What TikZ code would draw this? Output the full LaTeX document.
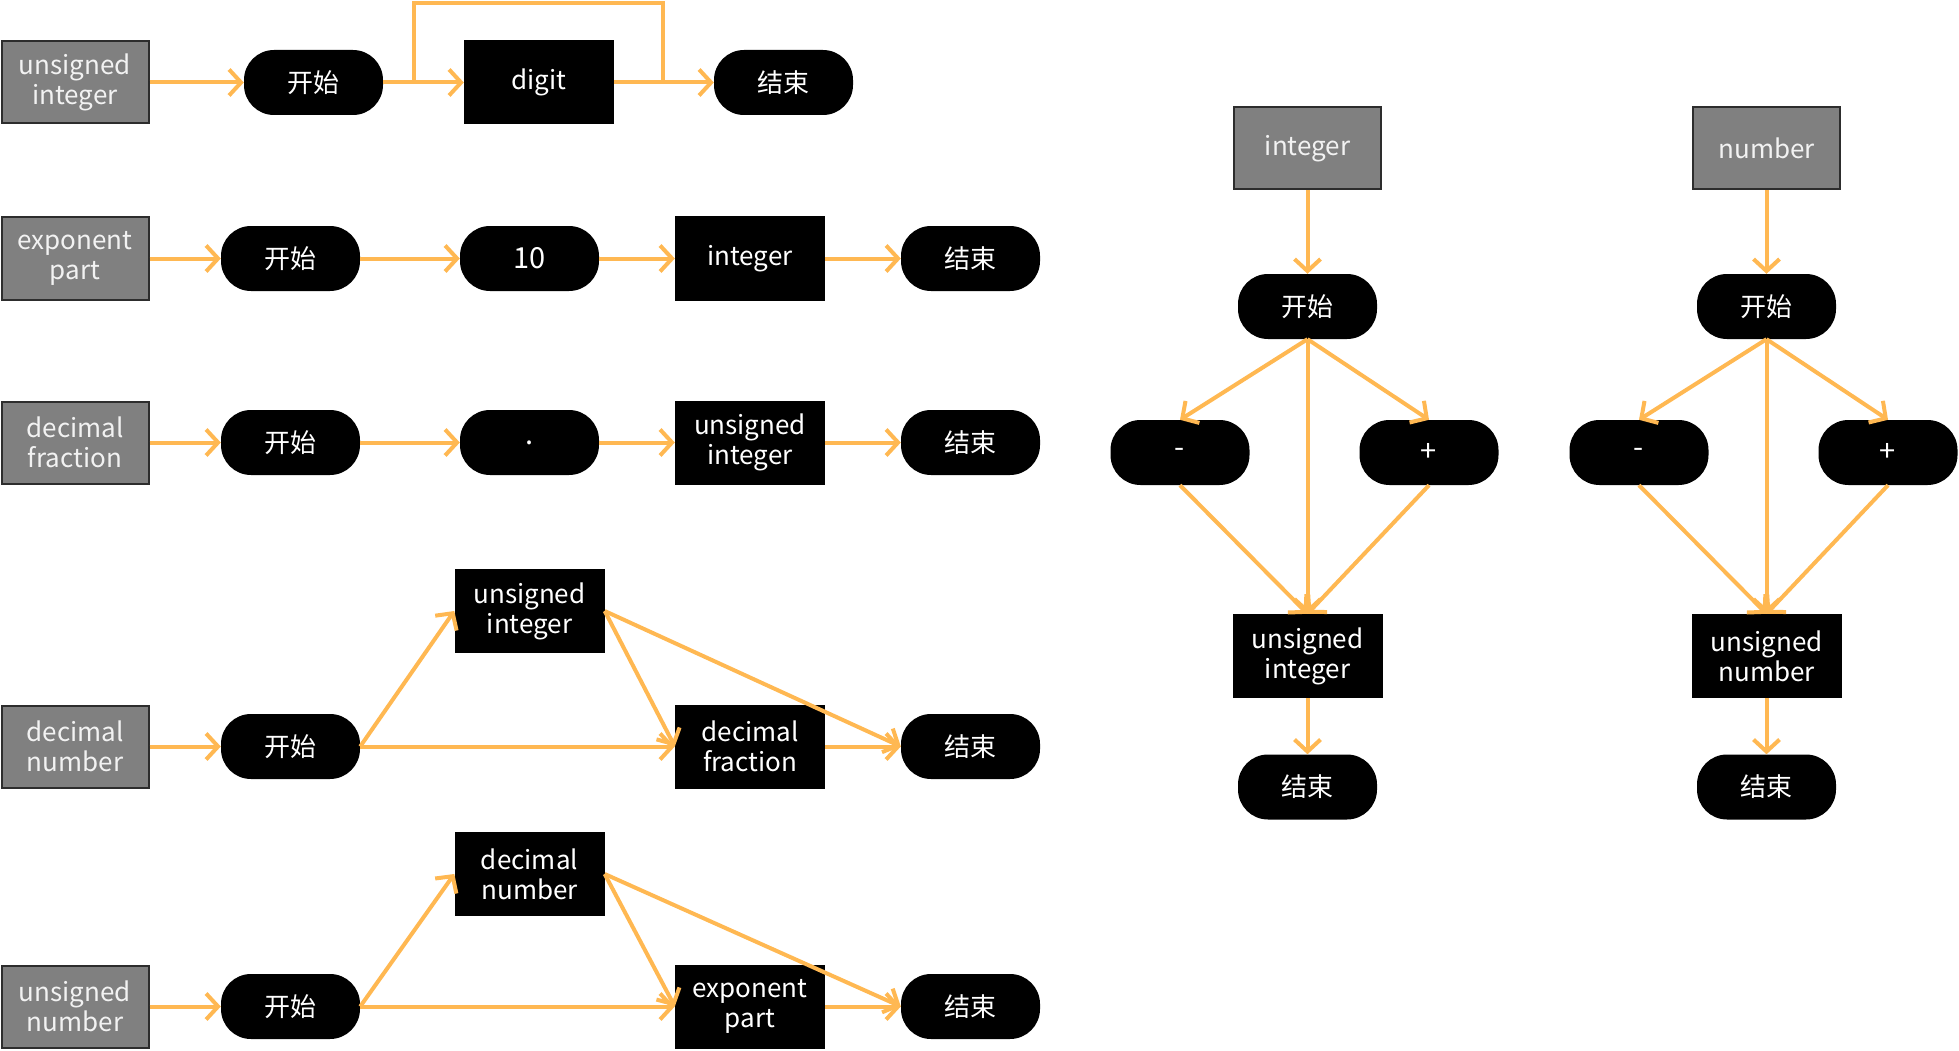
\documentclass[tikz,border=0pt]{standalone}
\usepackage{fontspec}
\setmainfont{Noto Sans CJK SC}
\usetikzlibrary{arrows.meta,calc}
\definecolor{arrc}{RGB}{255,184,82}
\definecolor{gfill}{RGB}{128,128,128}
\definecolor{gline}{RGB}{45,45,45}
\begin{document}
\begin{tikzpicture}[x=1pt,y=-1pt,
  every node/.style={font=\fontsize{26}{30}\selectfont, text=white, align=center, inner sep=0pt},
  gbox/.style={fill=gfill, draw=gline, line width=2pt, minimum width=147pt, minimum height=82pt, text=white!95!black},
  bbox/.style={fill=black, minimum width=150pt, minimum height=84pt},
  term/.style={fill=black, rounded corners=30pt, minimum width=139pt, minimum height=65pt},
  small/.style={font=\fontsize{29}{32}\selectfont},
  arr/.style={draw=arrc, line width=4pt, -{Straight Barb[length=12pt, width=26pt, line width=4pt]}},
  plain/.style={draw=arrc, line width=4pt}]
\useasboundingbox (0,0) rectangle (1959,1051);
% Row 1
\node[gbox] (g1) at (75,82.5) {unsigned\\integer};
\node[term] (s1) at (313.5,82.5) {开始};
\node[bbox] (d1) at (539,82.5) {digit};
\node[term] (e1) at (783.5,82.5) {结束};
\coordinate (l1) at (414,82.5);
\coordinate (l2) at (414,3);
\coordinate (l3) at (663,3);
\coordinate (l4) at (663,82.5);
\draw[arr] (g1) -- (s1);
\draw[arr] (s1) -- (d1);
\draw[arr] (d1) -- (e1);
\draw[plain] (l1) -- (l2) -- (l3) -- (l4);
% Row 2
\node[gbox] (g2) at (75,258.5) {exponent\\part};
\node[term] (s2) at (290.5,258.5) {开始};
\node[term,small] (t2) at (529.5,258.5) {10};
\node[bbox] (b2) at (750,258.5) {integer};
\node[term] (e2) at (970.5,258.5) {结束};
\draw[arr] (g2) -- (s2);
\draw[arr] (s2) -- (t2);
\draw[arr] (t2) -- (b2);
\draw[arr] (b2) -- (e2);
% Row 3
\node[gbox] (g3) at (75,442.5) {decimal\\fraction};
\node[term] (s3) at (290.5,442.5) {开始};
\node[term,small] (t3) at (529.5,442.5) {.};
\node[bbox] (b3) at (750,442.5) {unsigned\\integer};
\node[term] (e3) at (970.5,442.5) {结束};
\draw[arr] (g3) -- (s3);
\draw[arr] (s3) -- (t3);
\draw[arr] (t3) -- (b3);
\draw[arr] (b3) -- (e3);
% Row 4
\node[gbox] (g4) at (75,746.5) {decimal\\number};
\node[term] (s4) at (290.5,746.5) {开始};
\node[bbox] (u4) at (529.5,611) {unsigned\\integer};
\node[bbox] (f4) at (750,746.5) {decimal\\fraction};
\node[term] (e4) at (970.5,746.5) {结束};
\draw[arr] (g4) -- (s4);
\draw[arr] (s4.east) -- (u4.west);
\draw[arr] (s4) -- (f4);
\draw[arr] (u4.east) -- (f4.west);
\draw[arr] (u4.east) -- (e4.west);
\draw[arr] (f4) -- (e4);
% Row 5
\node[gbox] (g5) at (75,1006.5) {unsigned\\number};
\node[term] (s5) at (290.5,1006.5) {开始};
\node[bbox] (u5) at (529.5,874) {decimal\\number};
\node[bbox] (f5) at (750,1006.5) {exponent\\part};
\node[term] (e5) at (970.5,1006.5) {结束};
\draw[arr] (g5) -- (s5);
\draw[arr] (s5.east) -- (u5.west);
\draw[arr] (s5) -- (f5);
\draw[arr] (u5.east) -- (f5.west);
\draw[arr] (u5.east) -- (e5.west);
\draw[arr] (f5) -- (e5);
% Column A
\node[gbox] (ga) at (1307.5,148.5) {integer};
\node[term] (sa) at (1307.5,306.5) {开始};
\node[term,small] (ma) at (1180,452.5) {-};
\node[term,small] (pa) at (1429,452.5) {+};
\node[bbox] (ua) at (1307.5,656) {unsigned\\integer};
\node[term] (ea) at (1307.5,787) {结束};
\draw[arr] (ga) -- (sa);
\draw[arr] (sa.south) -- (ma.north);
\draw[arr] (sa.south) -- (pa.north);
\draw[arr] (sa.south) -- (ua.north);
\draw[arr] (ma.south) -- (ua.north);
\draw[arr] (pa.south) -- (ua.north);
\draw[arr] (ua) -- (ea);
% Column B
\node[gbox] (gb) at (1766.5,148.5) {number};
\node[term] (sb) at (1766.5,306.5) {开始};
\node[term,small] (mb) at (1639,452.5) {-};
\node[term,small] (pb) at (1888,452.5) {+};
\node[bbox] (ub) at (1766.5,656) {unsigned\\number};
\node[term] (eb) at (1766.5,787) {结束};
\draw[arr] (gb) -- (sb);
\draw[arr] (sb.south) -- (mb.north);
\draw[arr] (sb.south) -- (pb.north);
\draw[arr] (sb.south) -- (ub.north);
\draw[arr] (mb.south) -- (ub.north);
\draw[arr] (pb.south) -- (ub.north);
\draw[arr] (ub) -- (eb);
\end{tikzpicture}
\end{document}
